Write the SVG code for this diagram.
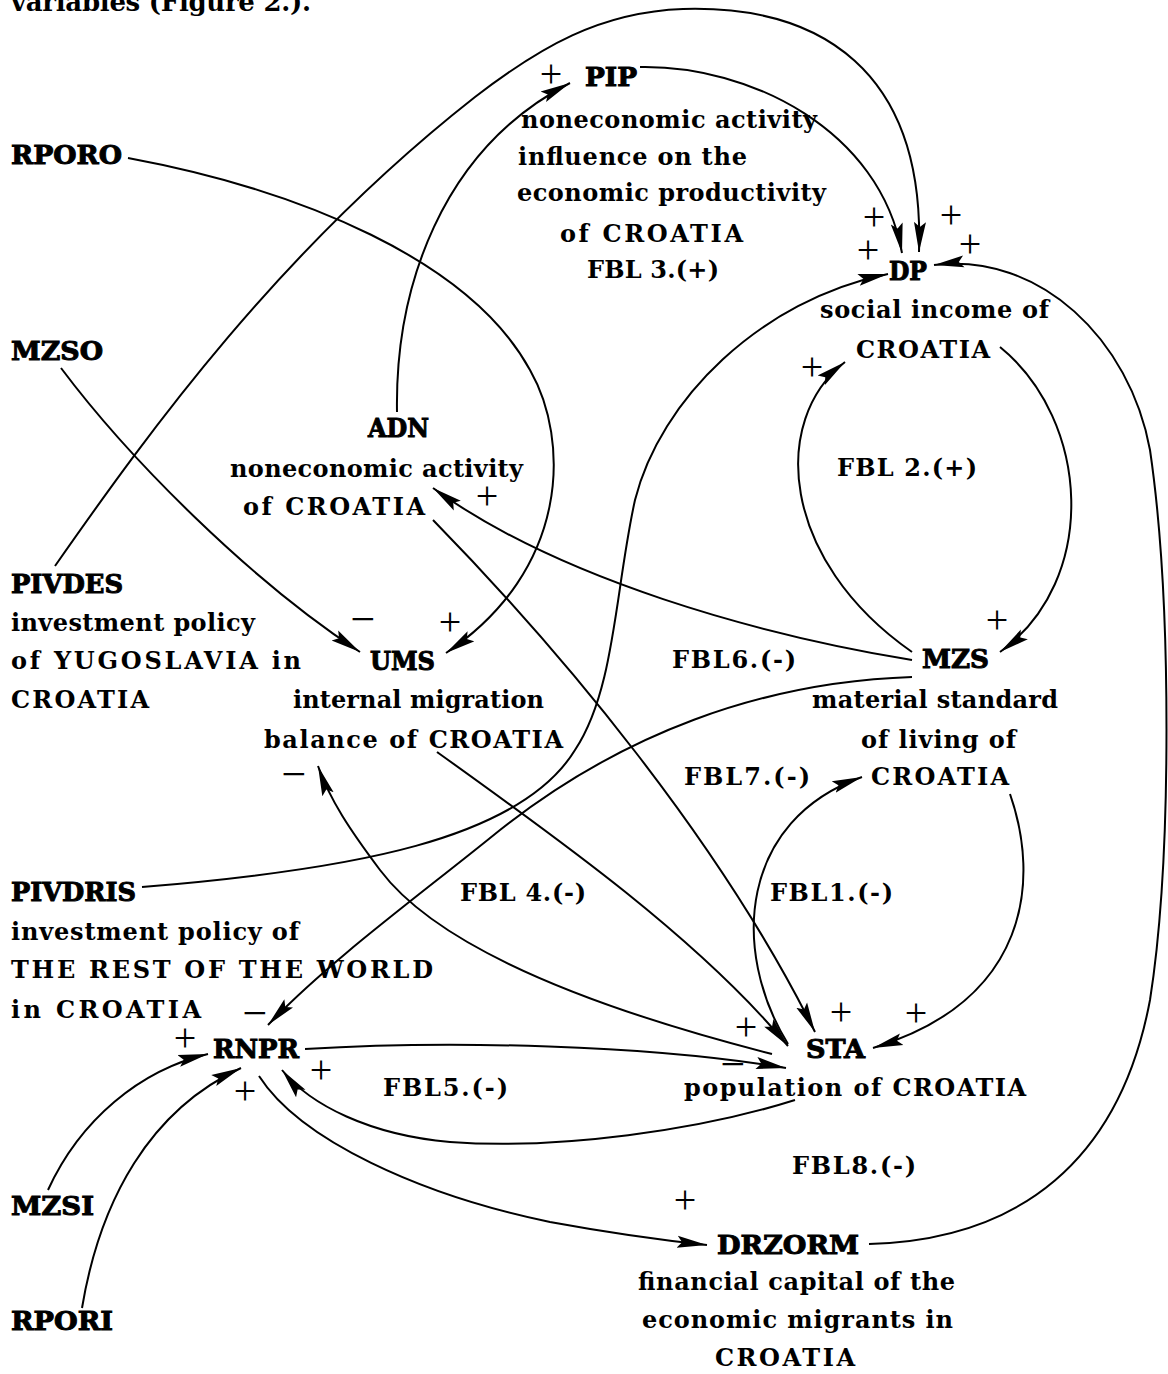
<svg xmlns="http://www.w3.org/2000/svg" width="1168" height="1374" viewBox="0 0 1168 1374">
<defs>
<marker id="ah" markerUnits="userSpaceOnUse" markerWidth="32" markerHeight="14" refX="30" refY="7" orient="auto">
<path d="M0,1 L30,7 L0,13 L5,7 Z" fill="#000"/>
</marker>
<style>
.bg{fill:#fff}
.v{font-family:"DejaVu Serif","Liberation Serif",serif;font-weight:bold;font-size:26px;fill:#000;stroke:#000;stroke-width:1px}
.t{font-family:"DejaVu Serif","Liberation Serif",serif;font-weight:bold;font-size:24px;fill:#000}
.ti{font-family:"DejaVu Serif","Liberation Serif",serif;font-weight:bold;font-size:26px;fill:#000}
.s{font-family:"Liberation Serif",serif;font-size:40px;fill:#000;text-anchor:middle}
.m{font-family:"Liberation Serif",serif;font-size:44px;fill:#000;text-anchor:middle}
.c path{fill:none;stroke:#000;stroke-width:2;marker-end:url(#ah)}
</style>
</defs>
<rect class="bg" x="0" y="0" width="1168" height="1374"/>
<text class="ti" x="11" y="11" textLength="300">variables (Figure 2.).</text>

<g id="connectors" class="c">
<path id="e-pivdes-dp" d="M55,566 C150,430 280,250 475,97 C540,47 600,12 683,9 C820,5 925,70 919,252"/>
<path id="e-pip-dp" d="M640,67 C750,65 880,130 902,253"/>
<path id="e-adn-pip" d="M397,412 C395,290 440,150 570,83"/>
<path id="e-rporo-ums" d="M128,158 C300,190 470,260 530,370 C570,440 570,570 446,653"/>
<path id="e-mzso-ums" d="M61,368 C130,460 250,580 360,652"/>
<path id="e-mzs-adn" d="M912,660 C760,635 560,580 433,488"/>
<path id="e-mzs-rnpr" d="M912,677 C760,682 620,735 500,830 C420,895 330,960 268,1025"/>
<path id="e-dp-mzs" d="M1000,347 C1090,420 1100,580 1000,652"/>
<path id="e-mzs-dp" d="M912,652 C780,560 770,420 845,362"/>
<path id="e-pivdris-dp" d="M142,887 C350,870 520,840 575,750 C615,690 615,590 635,500 C660,400 760,300 888,274"/>
<path id="e-drzorm-dp" d="M869,1244 C1020,1240 1120,1160 1150,1000 C1172,860 1172,600 1150,450 C1130,340 1040,252 934,265"/>
<path id="e-adn-sta" d="M433,520 C560,650 720,840 815,1032"/>
<path id="e-ums-sta" d="M437,752 C560,840 700,940 788,1046"/>
<path id="e-sta-ums" d="M772,1054 C600,1010 440,950 380,870 C350,830 330,800 318,766"/>
<path id="e-rnpr-sta" d="M305,1049 C450,1040 650,1045 786,1068"/>
<path id="e-sta-rnpr" d="M795,1100 C700,1130 560,1150 450,1142 C370,1135 310,1105 282,1070"/>
<path id="e-rnpr-drzorm" d="M259,1076 C300,1140 420,1195 550,1222 C610,1233 660,1240 707,1245"/>
<path id="e-sta-mzs" d="M788,1044 C730,950 740,820 862,777"/>
<path id="e-mzs-sta" d="M1010,794 C1040,880 1030,1000 873,1048"/>
<path id="e-mzsi-rnpr" d="M48,1190 C80,1120 140,1070 208,1054"/>
<path id="e-rpori-rnpr" d="M82,1308 C100,1200 150,1110 241,1068"/>
</g>

<g id="polarity">
<text class="s" x="551" y="87">+</text>
<text class="s" x="874" y="230">+</text>
<text class="s" x="951" y="228">+</text>
<text class="s" x="868" y="263">+</text>
<text class="s" x="970" y="257">+</text>
<text class="s" x="812" y="380">+</text>
<text class="s" x="487" y="509">+</text>
<text class="m" x="363" y="634">−</text>
<text class="s" x="450" y="635">+</text>
<text class="s" x="997" y="633">+</text>
<text class="m" x="294" y="789">−</text>
<text class="m" x="255" y="1028">−</text>
<text class="s" x="185" y="1051">+</text>
<text class="s" x="321" y="1083">+</text>
<text class="s" x="245" y="1104">+</text>
<text class="s" x="746" y="1040">+</text>
<text class="s" x="841" y="1025">+</text>
<text class="s" x="916" y="1026">+</text>
<text class="m" x="733" y="1079">−</text>
<text class="s" x="685" y="1213">+</text>
</g>

<g id="loops">
<text class="t" x="587" y="278" textLength="132">FBL 3.(+)</text>
<text class="t" x="837" y="476" textLength="140">FBL 2.(+)</text>
<text class="t" x="672" y="668" textLength="124">FBL6.(-)</text>
<text class="t" x="684" y="785" textLength="126">FBL7.(-)</text>
<text class="t" x="460" y="901" textLength="126">FBL 4.(-)</text>
<text class="t" x="770" y="901" textLength="123">FBL1.(-)</text>
<text class="t" x="383" y="1096" textLength="125">FBL5.(-)</text>
<text class="t" x="792" y="1174" textLength="124">FBL8.(-)</text>
</g>

<g id="node-PIP">
<text class="v" x="585" y="86" textLength="52" lengthAdjust="spacingAndGlyphs">PIP</text>
<text class="t" x="521" y="128" textLength="296">noneconomic activity</text>
<text class="t" x="518" y="165" textLength="229">influence on the</text>
<text class="t" x="517" y="201" textLength="309">economic productivity</text>
<text class="t" x="560" y="242" textLength="183">of CROATIA</text>
</g>
<g id="node-DP">
<text class="v" x="889" y="280" textLength="38" lengthAdjust="spacingAndGlyphs">DP</text>
<text class="t" x="820" y="318" textLength="229">social income of</text>
<text class="t" x="856" y="358" textLength="134">CROATIA</text>
</g>
<g id="node-RPORO"><text class="v" x="11" y="164" textLength="111" lengthAdjust="spacingAndGlyphs">RPORO</text></g>
<g id="node-MZSO"><text class="v" x="11" y="360" textLength="92" lengthAdjust="spacingAndGlyphs">MZSO</text></g>
<g id="node-ADN">
<text class="v" x="368" y="437" textLength="61" lengthAdjust="spacingAndGlyphs">ADN</text>
<text class="t" x="230" y="477" textLength="293">noneconomic activity</text>
<text class="t" x="243" y="515" textLength="182">of CROATIA</text>
</g>
<g id="node-PIVDES">
<text class="v" x="11" y="593" textLength="112" lengthAdjust="spacingAndGlyphs">PIVDES</text>
<text class="t" x="11" y="631" textLength="244">investment policy</text>
<text class="t" x="11" y="669" textLength="290">of YUGOSLAVIA in</text>
<text class="t" x="11" y="708" textLength="138">CROATIA</text>
</g>
<g id="node-UMS">
<text class="v" x="370" y="670" textLength="65" lengthAdjust="spacingAndGlyphs">UMS</text>
<text class="t" x="293" y="708" textLength="251">internal migration</text>
<text class="t" x="264" y="748" textLength="299">balance of CROATIA</text>
</g>
<g id="node-MZS">
<text class="v" x="922" y="668" textLength="67" lengthAdjust="spacingAndGlyphs">MZS</text>
<text class="t" x="812" y="708" textLength="246">material standard</text>
<text class="t" x="861" y="748" textLength="155">of living of</text>
<text class="t" x="871" y="785" textLength="138">CROATIA</text>
</g>
<g id="node-PIVDRIS">
<text class="v" x="11" y="901" textLength="125" lengthAdjust="spacingAndGlyphs">PIVDRIS</text>
<text class="t" x="11" y="940" textLength="288">investment policy of</text>
<text class="t" x="11" y="978" textLength="422">THE REST OF THE WORLD</text>
<text class="t" x="11" y="1018" textLength="190">in CROATIA</text>
</g>
<g id="node-RNPR"><text class="v" x="213" y="1058" textLength="86" lengthAdjust="spacingAndGlyphs">RNPR</text></g>
<g id="node-STA">
<text class="v" x="806" y="1058" textLength="59" lengthAdjust="spacingAndGlyphs">STA</text>
<text class="t" x="684" y="1096" textLength="342">population of CROATIA</text>
</g>
<g id="node-MZSI"><text class="v" x="11" y="1215" textLength="83" lengthAdjust="spacingAndGlyphs">MZSI</text></g>
<g id="node-DRZORM">
<text class="v" x="717" y="1254" textLength="142" lengthAdjust="spacingAndGlyphs">DRZORM</text>
<text class="t" x="638" y="1290" textLength="317">financial capital of the</text>
<text class="t" x="642" y="1328" textLength="311">economic migrants in</text>
<text class="t" x="715" y="1366" textLength="140">CROATIA</text>
</g>
<g id="node-RPORI"><text class="v" x="11" y="1330" textLength="102" lengthAdjust="spacingAndGlyphs">RPORI</text></g>
</svg>
